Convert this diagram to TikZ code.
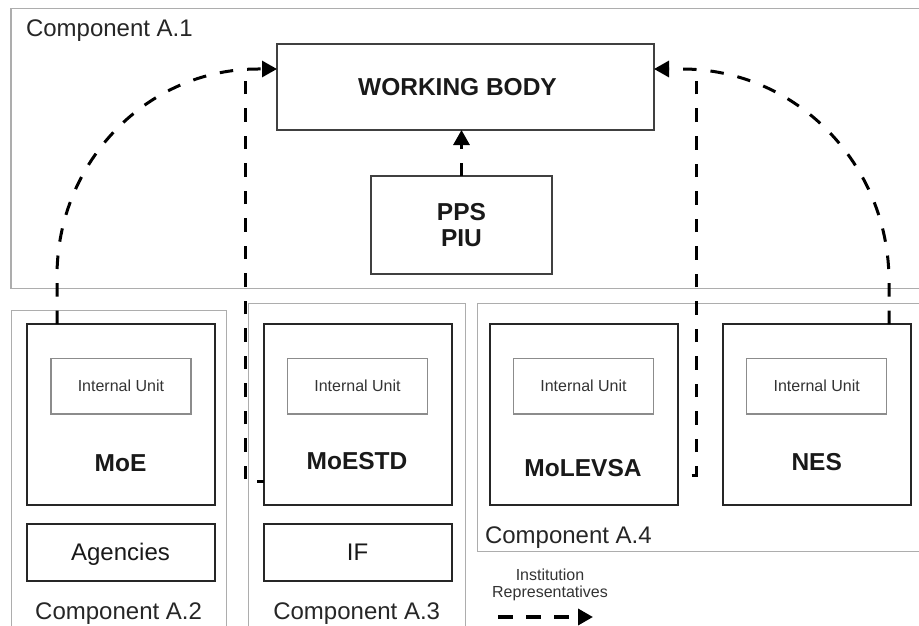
\documentclass[tikz,border=0pt]{standalone}
\usepackage{fontspec}
\setmainfont{Liberation Sans}
\usetikzlibrary{arrows.meta}
\begin{document}
\begin{tikzpicture}[x=1pt,y=-1pt,
 every node/.style={outer sep=0pt},
 comp/.style={draw=black!32, line width=1.5pt, anchor=north west, inner sep=0pt},
 org/.style={draw=black!85, line width=2pt, minimum width=188pt, minimum height=180.5pt, inner sep=0pt},
 unit/.style={draw=black!45, line width=1.2pt, minimum width=140pt, minimum height=55.7pt, inner sep=0pt, font=\fontsize{16}{18}\selectfont, text=black!80},
 sub/.style={draw=black!85, line width=2pt, minimum width=188pt, minimum height=56.7pt, inner sep=0pt, font=\fontsize{24}{28}\selectfont, text height=17.2pt, text depth=0pt, text=black!90},
 head/.style={draw=black!75, line width=2pt, inner sep=0pt, align=center, font=\bfseries\fontsize{24.5}{26}\selectfont, text=black!90},
 orgname/.style={anchor=base, inner sep=0pt, font=\bfseries\fontsize{24.5}{28}\selectfont, text=black!90},
 complbl/.style={inner sep=0pt, font=\fontsize{24}{28}\selectfont, text=black!85},
 leglbl/.style={inner sep=0pt, anchor=base, font=\fontsize{16}{18}\selectfont, text=black!80},
 rep/.style={line width=3pt, dash pattern=on 13.5pt off 14pt},
 tip/.style={-{Triangle[length=15pt,width=16pt]}},
]
\useasboundingbox (0,0) rectangle (919,626);
\clip (0,0) rectangle (919,626);

% component containers
\node[comp, minimum width=930pt, minimum height=280pt] (a1) at (11,8.3) {};
\node[comp, minimum width=215pt, minimum height=340pt] (a2) at (11.7,310.7) {};
\node[comp, minimum width=217.2pt, minimum height=340pt] (a3) at (248.3,303.3) {};
\node[comp, minimum width=460pt, minimum height=248.4pt] (a4) at (477.3,303.3) {};

\node[complbl, anchor=base west] (a1l) at (26,36.3) {Component A.1};
\node[complbl, anchor=base] (a2l) at (118.6,619.3) {Component A.2};
\node[complbl, anchor=base] (a3l) at (356.7,619.3) {Component A.3};
\node[complbl, anchor=base west] (a4l) at (485,543.6) {Component A.4};

% top boxes
\node[head, minimum width=377pt, minimum height=86pt] (wb) at (465.5,87) {\hspace*{-16pt}WORKING BODY};
\node[head, minimum width=181pt, minimum height=98pt] (pps) at (461.5,225) {PPS\\PIU};

% ministries
\node[org] (moe) at (120.5,414.25) {};
\node[org] (moestd) at (357.6,414.25) {};
\node[org] (molevsa) at (583.5,414.25) {};
\node[org] (nes) at (816.7,414.25) {};

\node[unit] (iu1) at (120.9,386.2) {Internal Unit};
\node[unit] (iu2) at (357.5,386.2) {Internal Unit};
\node[unit] (iu3) at (583.5,386.2) {Internal Unit};
\node[unit] (iu4) at (816.7,386.2) {Internal Unit};

\node[orgname] (moel) at (120.5,471.5) {MoE};
\node[orgname] (moestdl) at (357,469.8) {MoESTD};
\node[orgname] (molevsal) at (583,476.5) {MoLEVSA};
\node[orgname] (nesl) at (816.7,470.5) {NES};

\node[sub] (ag) at (120.5,552.3) {Agencies};
\node[sub] (if) at (357.6,552.3) {IF};

% connectors
\coordinate (L0) at (57,0);
\coordinate (Ltop) at (258,69);
\coordinate (R0) at (889,0);
\coordinate (Rtop) at (682,69);
\coordinate (LV) at (245,481.5);
\coordinate (LVtop) at (245,72);
\coordinate (RV) at (696,475);
\coordinate (RVtop) at (696,72);

\draw[rep, tip] (moe.north -| L0) -- (57,276) .. controls (57,162) and (147,69) .. (Ltop) -- (wb.west |- Ltop);
\draw[rep, tip] (nes.north -| R0) -- (889,281) .. controls (889,164) and (796,69) .. (Rtop) -- (wb.east |- Rtop);
\draw[rep, dash phase=6.5pt] (moestd.west |- LV) -- (LV) -- (LVtop);
\draw[rep, dash phase=13.5pt] (molevsa.east |- RV) -- (RV) -- (RVtop);
\draw[rep, tip] (pps.north) -- (pps.north |- wb.south);

% legend
\node[leglbl] (lg1t) at (550,580.7) {Institution};
\node[leglbl] (lg2t) at (550,597.2) {Representatives};
\coordinate (lgA) at (498,617);
\coordinate (lgB) at (593,617);
\draw[line width=3.5pt, dash pattern=on 15pt off 13pt, tip] (lgA) -- (lgB);
\end{tikzpicture}
\end{document}
